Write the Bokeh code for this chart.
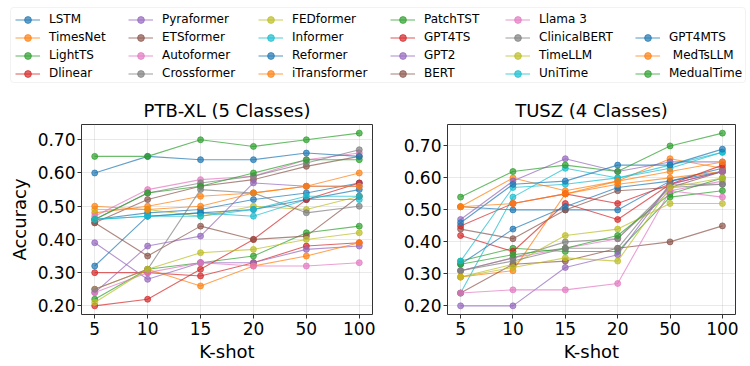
from bokeh.plotting import figure
from bokeh.layouts import column, row
from bokeh.models import (Legend, LegendItem, FixedTicker, Range1d,
                          NumeralTickFormatter, BoxAnnotation)
from bokeh.embed import file_html
from bokeh.resources import INLINE

k_shots = ["5", "10", "15", "20", "50", "100"]

models = ["LSTM", "TimesNet", "LightTS", "Dlinear", "Pyraformer", "ETSformer",
          "Autoformer", "Crossformer", "FEDformer", "Informer", "Reformer",
          "iTransformer", "PatchTST", "GPT4TS", "GPT2", "BERT", "Llama 3",
          "ClinicalBERT", "TimeLLM", "UniTime", "GPT4MTS", " MedTsLLM", "MedualTime"]

tab10 = ["#1f77b4", "#ff7f0e", "#2ca02c", "#d62728", "#9467bd",
         "#8c564b", "#e377c2", "#7f7f7f", "#bcbd22", "#17becf"]

# PTB-XL (5 classes) accuracy per model
ptb_lstm = [0.46, 0.48, 0.49, 0.52, 0.54, 0.57]
ptb_timesnet = [0.48, 0.50, 0.53, 0.54, 0.56, 0.60]
ptb_lightts = [0.22, 0.31, 0.33, 0.35, 0.42, 0.44]
ptb_dlinear = [0.30, 0.30, 0.29, 0.33, 0.38, 0.39]
ptb_pyraformer = [0.39, 0.28, 0.33, 0.33, 0.37, 0.38]
ptb_etsformer = [0.45, 0.52, 0.56, 0.58, 0.62, 0.65]
ptb_autoformer = [0.47, 0.55, 0.58, 0.59, 0.64, 0.66]
ptb_crossformer = [0.46, 0.54, 0.57, 0.59, 0.63, 0.67]
ptb_fedformer = [0.49, 0.49, 0.47, 0.50, 0.49, 0.53]
ptb_informer = [0.46, 0.47, 0.48, 0.47, 0.52, 0.52]
ptb_reformer = [0.32, 0.47, 0.48, 0.49, 0.52, 0.55]
ptb_itransformer = [0.25, 0.31, 0.26, 0.32, 0.35, 0.39]
ptb_patchtst = [0.46, 0.54, 0.56, 0.60, 0.64, 0.64]
ptb_gpt4ts = [0.20, 0.22, 0.31, 0.40, 0.52, 0.57]
ptb_gpt2 = [0.24, 0.38, 0.41, 0.57, 0.56, 0.56]
ptb_bert = [0.45, 0.35, 0.44, 0.40, 0.41, 0.53]
ptb_llama3 = [0.24, 0.30, 0.33, 0.32, 0.32, 0.33]
ptb_clinicalbert = [0.25, 0.31, 0.55, 0.54, 0.48, 0.50]
ptb_timellm = [0.21, 0.31, 0.36, 0.37, 0.40, 0.42]
ptb_unitime = [0.46, 0.47, 0.47, 0.49, 0.53, 0.53]
ptb_gpt4mts = [0.60, 0.65, 0.64, 0.64, 0.66, 0.65]
ptb_medtsllm = [0.50, 0.49, 0.50, 0.54, 0.56, 0.56]
ptb_medualtime = [0.65, 0.65, 0.70, 0.68, 0.70, 0.72]

# TUSZ (4 classes) accuracy per model
tusz_lstm = [0.51, 0.50, 0.50, 0.50, 0.59, 0.63]
tusz_timesnet = [0.51, 0.60, 0.56, 0.59, 0.66, 0.63]
tusz_lightts = [0.34, 0.38, 0.37, 0.37, 0.54, 0.56]
tusz_dlinear = [0.42, 0.37, 0.52, 0.47, 0.58, 0.62]
tusz_pyraformer = [0.47, 0.59, 0.66, 0.62, 0.65, 0.65]
tusz_etsformer = [0.44, 0.41, 0.50, 0.56, 0.57, 0.62]
tusz_autoformer = [0.31, 0.35, 0.38, 0.41, 0.56, 0.59]
tusz_crossformer = [0.31, 0.35, 0.40, 0.41, 0.57, 0.58]
tusz_fedformer = [0.29, 0.33, 0.42, 0.44, 0.52, 0.52]
tusz_informer = [0.24, 0.54, 0.63, 0.60, 0.63, 0.68]
tusz_reformer = [0.33, 0.44, 0.51, 0.57, 0.59, 0.62]
tusz_itransformer = [0.29, 0.31, 0.55, 0.58, 0.60, 0.62]
tusz_patchtst = [0.33, 0.36, 0.38, 0.42, 0.55, 0.60]
tusz_gpt4ts = [0.45, 0.52, 0.55, 0.52, 0.58, 0.64]
tusz_gpt2 = [0.20, 0.20, 0.32, 0.36, 0.58, 0.62]
tusz_bert = [0.24, 0.33, 0.34, 0.38, 0.40, 0.45]
tusz_llama3 = [0.24, 0.25, 0.25, 0.27, 0.56, 0.54]
tusz_clinicalbert = [0.31, 0.34, 0.38, 0.38, 0.58, 0.58]
tusz_timellm = [0.29, 0.32, 0.35, 0.34, 0.57, 0.60]
tusz_unitime = [0.34, 0.57, 0.58, 0.60, 0.64, 0.68]
tusz_gpt4mts = [0.46, 0.58, 0.59, 0.64, 0.64, 0.69]
tusz_medtsllm = [0.51, 0.52, 0.55, 0.59, 0.62, 0.65]
tusz_medualtime = [0.54, 0.62, 0.64, 0.62, 0.70, 0.74]

ptb_series = [ptb_lstm, ptb_timesnet, ptb_lightts, ptb_dlinear, ptb_pyraformer,
              ptb_etsformer, ptb_autoformer, ptb_crossformer, ptb_fedformer,
              ptb_informer, ptb_reformer, ptb_itransformer, ptb_patchtst,
              ptb_gpt4ts, ptb_gpt2, ptb_bert, ptb_llama3, ptb_clinicalbert,
              ptb_timellm, ptb_unitime, ptb_gpt4mts, ptb_medtsllm, ptb_medualtime]
tusz_series = [tusz_lstm, tusz_timesnet, tusz_lightts, tusz_dlinear, tusz_pyraformer,
               tusz_etsformer, tusz_autoformer, tusz_crossformer, tusz_fedformer,
               tusz_informer, tusz_reformer, tusz_itransformer, tusz_patchtst,
               tusz_gpt4ts, tusz_gpt2, tusz_bert, tusz_llama3, tusz_clinicalbert,
               tusz_timellm, tusz_unitime, tusz_gpt4mts, tusz_medtsllm, tusz_medualtime]

FONT = "DejaVu Sans"
y_ticks = [0.2, 0.3, 0.4, 0.5, 0.6, 0.7]
xs = list(range(len(k_shots)))


def make_panel(title, series, ylabel, width, min_left, min_right):
    lo = min(min(s) for s in series)
    hi = max(max(s) for s in series)
    pad = 0.05 * (hi - lo)
    xpad = 0.05 * (len(k_shots) - 1)
    p = figure(width=width, height=280, output_backend="svg", toolbar_location=None,
               x_range=Range1d(-xpad, len(k_shots) - 1 + xpad),
               y_range=Range1d(lo - pad, hi + pad),
               min_border_left=min_left, min_border_right=min_right,
               min_border_top=40, min_border_bottom=42)
    p.title.text = title
    p.title.align = "center"
    p.title.text_font = FONT
    p.title.text_font_size = "18px"
    p.title.text_font_style = "normal"
    p.title.text_color = "black"
    p.title.standoff = 7
    for i, s in enumerate(series):
        c = tab10[i % 10]
        p.line(xs, s, line_color=c, line_width=1.1, line_alpha=0.7)
        p.scatter(xs, s, size=6, fill_color=c, line_color=c, fill_alpha=0.7, line_alpha=0.7)
    p.xaxis.ticker = FixedTicker(ticks=xs)
    p.xaxis.major_label_overrides = {i: k for i, k in enumerate(k_shots)}
    p.yaxis.ticker = FixedTicker(ticks=y_ticks)
    p.yaxis.formatter = NumeralTickFormatter(format="0.00")
    p.xaxis.axis_label = "K-shot"
    if ylabel:
        p.yaxis.axis_label = ylabel
    for ax in (p.xaxis[0], p.yaxis[0]):
        ax.axis_line_color = None
        ax.minor_tick_line_color = None
        ax.major_tick_out = 4
        ax.major_tick_in = 0
        ax.major_tick_line_color = "#333333"
        ax.major_label_text_font = FONT
        ax.major_label_text_font_size = "17px"
        ax.major_label_text_color = "black"
        ax.axis_label_text_font = FONT
        ax.axis_label_text_font_size = "18px"
        ax.axis_label_text_font_style = "normal"
        ax.axis_label_text_color = "black"
    p.xaxis.major_label_standoff = 3
    p.xaxis.axis_label_standoff = 3
    p.yaxis.major_label_standoff = 2
    p.yaxis.axis_label_standoff = 5
    p.outline_line_color = "#333333"
    p.outline_line_width = 1
    p.grid.grid_line_color = "#b0b0b0"
    p.grid.grid_line_alpha = 0.35
    p.grid.grid_line_width = 0.8
    p.background_fill_color = "white"
    p.border_fill_color = "white"
    return p


p1 = make_panel("PTB-XL (5 Classes)", ptb_series, "Accuracy", 400, 81, 28)
p2 = make_panel("TUSZ (4 Classes)", tusz_series, None, 348, 44, 13)

# legend figure (pixel-like ranges: 1 unit = 1 px)
LG_W, LG_H = 748, 84
lg = figure(width=LG_W, height=LG_H, output_backend="svg", toolbar_location=None,
            x_range=Range1d(0, LG_W), y_range=Range1d(0, LG_H), min_border=0)
lg.axis.visible = False
lg.grid.visible = False
lg.outline_line_color = None
lg.add_layout(BoxAnnotation(left=10, right=745, bottom=2, top=77,
                            fill_color="white", fill_alpha=0.8,
                            line_color="#d4d4d4", line_width=1, border_radius=3))

col_x = [15, 128, 258, 390, 505, 635]
n_rows = 4
for ci, x0 in enumerate(col_x):
    items = []
    for i in range(ci * n_rows, min((ci + 1) * n_rows, len(models))):
        c = tab10[i % 10]
        r1 = lg.line([-100, -90], [-100, -100], line_color=c, line_width=1.1, line_alpha=0.7)
        r2 = lg.scatter([-100], [-100], size=5, fill_color=c, line_color=c,
                        fill_alpha=0.7, line_alpha=0.7)
        items.append(LegendItem(label=models[i], renderers=[r1, r2]))
    leg = Legend(items=items, orientation="vertical", location=(x0, 2.5))
    leg.label_text_font = FONT
    leg.label_text_font_size = "12px"
    leg.label_text_color = "black"
    leg.glyph_width = 25
    leg.glyph_height = 17
    leg.label_height = 17
    leg.spacing = 1
    leg.label_standoff = 9
    leg.padding = 0
    leg.margin = 0
    leg.border_line_color = None
    leg.background_fill_alpha = 0
    lg.add_layout(leg, "center")

layout = column(lg, row(p1, p2, spacing=0), spacing=0)
open("out.html", "w").write(file_html(layout, INLINE))
